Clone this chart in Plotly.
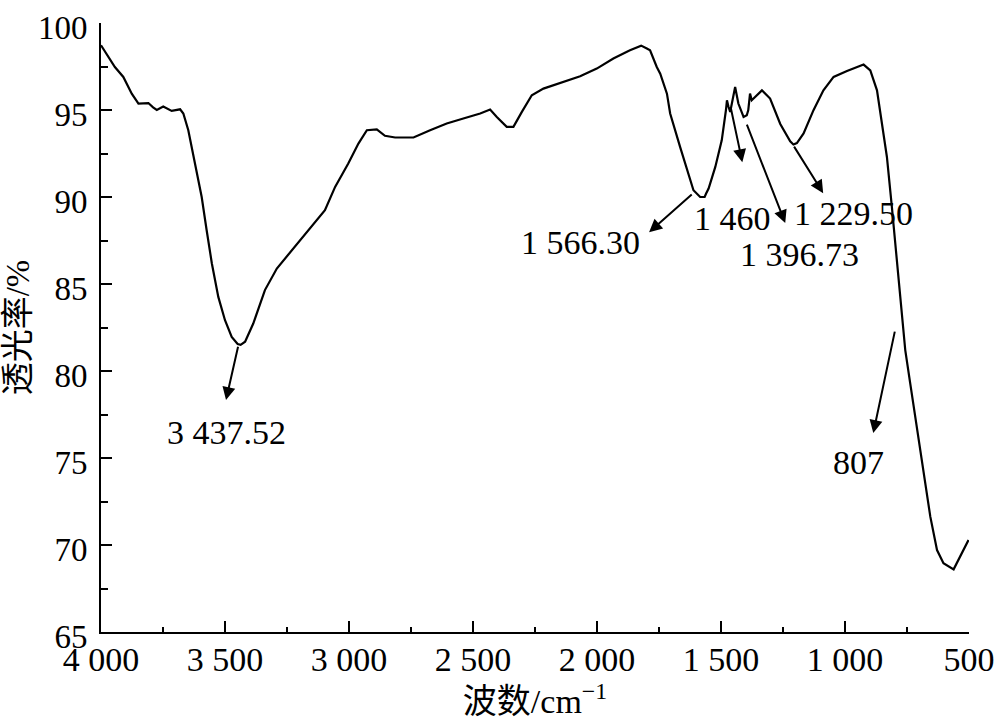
import plotly.graph_objects as go

wavenumber = [4000, 3944, 3910, 3876, 3849, 3809, 3790, 3775, 3749, 3730, 3715, 3681, 3668, 3648,
              3621, 3594, 3574, 3553, 3527, 3500, 3473, 3449, 3437, 3419, 3386, 3339, 3291, 3218,
              3150, 3097, 3056, 3003, 2962, 2928, 2888, 2855, 2814, 2740, 2673, 2606, 2539, 2471,
              2431, 2404, 2364, 2337, 2303, 2263, 2216, 2135, 2068, 2001, 1934, 1867, 1822, 1799,
              1786, 1759, 1745, 1718, 1705, 1665, 1631, 1611, 1584, 1566, 1560, 1550, 1523, 1497,
              1480, 1476, 1470, 1463, 1443, 1430, 1409, 1396, 1390, 1383, 1376, 1335, 1302, 1261,
              1221, 1208, 1194, 1167, 1127, 1087, 1046, 992, 925, 898, 871, 851, 831, 811, 795,
              778, 757, 737, 717, 697, 677, 656, 629, 603, 562, 536, 502]
transmittance = [98.72, 97.47, 96.9, 95.94, 95.37, 95.4, 95.15, 95.0, 95.2, 95.05, 94.95, 95.04, 94.8, 93.84,
                 91.92, 90.0, 88.09, 86.18, 84.26, 82.92, 81.96, 81.55, 81.5, 81.68, 82.73, 84.65, 85.89, 87.13,
                 88.28, 89.24, 90.58, 91.92, 93.07, 93.84, 93.89, 93.52, 93.42, 93.42, 93.84, 94.22, 94.51, 94.8,
                 95.03, 94.6, 94.03, 94.03, 94.89, 95.85, 96.23, 96.61, 96.94, 97.38, 97.96, 98.43, 98.7, 98.53,
                 98.43, 97.47, 97.09, 95.94, 94.8, 92.88, 91.35, 90.39, 90.0, 90.0, 90.2, 90.49, 91.73, 93.26,
                 95.0, 95.56, 95.2, 94.89, 96.32, 95.37, 94.6, 94.7, 95.0, 95.94, 95.56, 96.13, 95.66, 94.2,
                 93.2, 93.02, 93.1, 93.65, 94.99, 96.13, 96.9, 97.24, 97.61, 97.28, 96.13, 94.22, 92.3, 89.43, 87.0,
                 84.07, 81.2, 79.29, 77.37, 75.46, 73.54, 71.63, 69.71, 68.95, 68.6, 69.33, 70.29]

x_tickvals = [4000, 3500, 3000, 2500, 2000, 1500, 1000, 500]
x_ticktext = ["4 000", "3 500", "3 000", "2 500", "2 000", "1 500", "1 000", "500"]

peak_labels = ["3 437.52", "1 566.30", "1 460", "1 396.73", "1 229.50", "807"]
# arrow tail (near curve) and head (away) in data coords
arrow_tail_x = [3446, 1612, 1461, 1398, 1209, 798]
arrow_tail_y = [81.48, 90.22, 95.16, 94.24, 92.98, 82.35]
arrow_head_x = [3496, 1790, 1414, 1241, 1088, 886]
arrow_head_y = [78.33, 87.98, 92.0, 88.5, 90.22, 76.43]
label_x = [3492, 2068, 1455, 1185, 967, 947]
label_y = [76.44, 87.4, 88.78, 86.7, 89.06, 74.77]

serif = "Liberation Serif, Times New Roman, Noto Sans CJK SC, serif"
FS = 34

fig = go.Figure()
fig.add_trace(go.Scatter(x=wavenumber, y=transmittance, mode="lines",
                         line=dict(color="black", width=2.2), showlegend=False))

annotations = []
for i in range(len(peak_labels)):
    annotations.append(dict(x=arrow_head_x[i], y=arrow_head_y[i], xref="x", yref="y",
                            ax=arrow_tail_x[i], ay=arrow_tail_y[i], axref="x", ayref="y",
                            text="", showarrow=True, arrowhead=2, arrowsize=1.3,
                            arrowwidth=2, arrowcolor="black"))
    annotations.append(dict(x=label_x[i], y=label_y[i], xref="x", yref="y",
                            text=peak_labels[i], showarrow=False,
                            font=dict(family=serif, size=FS, color="black")))

fig.update_layout(
    width=1000, height=728, autosize=False,
    margin=dict(l=101, r=31, t=23, b=96),
    paper_bgcolor="white", plot_bgcolor="white",
    annotations=annotations,
    font=dict(family=serif, size=FS, color="black"),
)
fig.update_xaxes(
    range=[4000, 500], tickvals=x_tickvals, ticktext=x_ticktext,
    automargin=False,
    showline=True, linecolor="black", linewidth=2, mirror=False,
    ticks="inside", ticklen=11, tickwidth=2, tickcolor="black",
    minor=dict(ticks="inside", ticklen=5, tickwidth=2, tickcolor="black", dtick=250),
    showgrid=False, zeroline=False,
    tickfont=dict(family=serif, size=FS, color="black"),
    ticklabelstandoff=-4,
    title=dict(text="波数/cm<sup>−1</sup>", font=dict(family=serif, size=FS, color="black"), standoff=0),
)
fig.update_yaxes(
    range=[65, 100], dtick=5, tick0=65,
    automargin=False,
    showline=True, linecolor="black", linewidth=2, mirror=False,
    ticks="inside", ticklen=11, tickwidth=2, tickcolor="black",
    minor=dict(ticks="inside", ticklen=7, tickwidth=2, tickcolor="black", dtick=2.5),
    showgrid=False, zeroline=False,
    tickfont=dict(family=serif, size=33, color="black"),
    ticklabelstandoff=5, ticklabelshift=4,
    title=dict(text="透光率/%", font=dict(family=serif, size=33, color="black"), standoff=6),
)

fig.write_html("out.html", config={"displayModeBar": False},
               post_script="document.body.style.margin='0';")
